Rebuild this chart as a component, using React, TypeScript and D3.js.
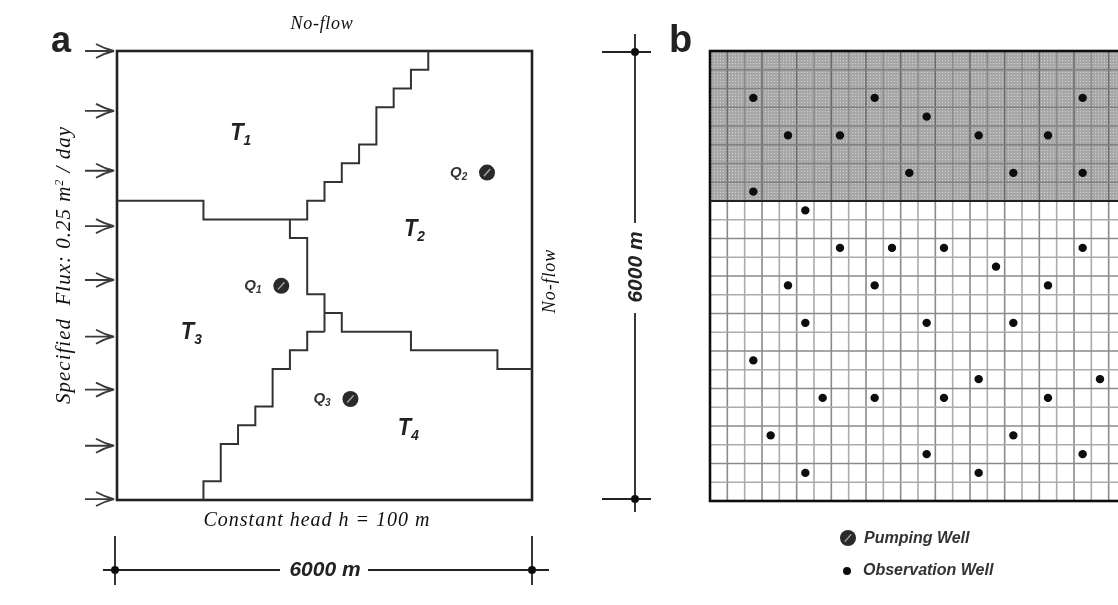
import React from "react";
import * as d3 from "d3";

// model grid is 24 x 24 cells, everything below is in cell units
const cells = d3.range(0, 25);

// boundaries between zones, [col, row] vertices
const boundaryT1T2: [number, number][] = [[18, 0], [18, 1], [17, 1], [17, 2], [16, 2], [16, 3], [15, 3], [15, 5], [14, 5], [14, 6], [13, 6], [13, 7], [12, 7], [12, 8], [11, 8], [11, 9], [5, 9], [5, 8], [0, 8]];
const boundaryT2T3: [number, number][] = [[10, 9], [10, 10], [11, 10], [11, 13], [12, 13], [12, 15]];
const boundaryT2T4: [number, number][] = [[12, 14], [13, 14], [13, 15], [17, 15], [17, 16], [22, 16], [22, 17], [24, 17]];
const boundaryT3T4: [number, number][] = [[12, 15], [11, 15], [11, 16], [10, 16], [10, 17], [9, 17], [9, 19], [8, 19], [8, 20], [7, 20], [7, 21], [6, 21], [6, 23], [5, 23], [5, 24]];

const arrowRows = [0, 3.2, 6.4, 9.36, 12.24, 15.27, 18.1, 21.1, 23.95];

const zoneNames = ["1", "2", "3", "4"];
const zoneCols = [7.15, 17.2, 4.3, 16.85];
const zoneRows = [4.75, 9.9, 15.4, 20.55];

const pumpNames = ["1", "2", "3"];
const pumpCols = [9.5, 21.4, 13.5];
const pumpRows = [12.55, 6.5, 18.6];

// observation wells, cell index
const obsCols = [2, 9, 21, 12, 4, 7, 15, 19, 11, 17, 21, 2, 5, 7, 10, 13, 21, 16, 4, 9, 19, 5, 12, 17, 2, 15, 22, 6, 9, 13, 19, 3, 17, 12, 21, 5, 15];
const obsRows = [2, 2, 2, 3, 4, 4, 4, 4, 6, 6, 6, 7, 8, 10, 10, 10, 10, 11, 12, 12, 12, 14, 14, 14, 16, 17, 17, 18, 18, 18, 18, 20, 20, 21, 21, 22, 22];
const shadedRows = 8;

const sans = "'Liberation Sans', Arial, sans-serif";
const serif = "'Liberation Serif', 'Times New Roman', serif";

const ax = d3.scaleLinear().domain([0, 24]).range([117, 532]);
const ay = d3.scaleLinear().domain([0, 24]).range([51, 500]);
const bx = d3.scaleLinear().domain([0, 24]).range([710, 1126]);
const by = d3.scaleLinear().domain([0, 24]).range([51, 501]);

const boundaryLine = d3.line<[number, number]>().x(d => ax(d[0])).y(d => ay(d[1]));

function PumpSymbol({ x, y, r }: { x: number; y: number; r: number }) {
  return (
    <g>
      <circle cx={x} cy={y} r={r} fill="#2a2a2a" />
      <line x1={x - r * 0.4} y1={y + r * 0.45} x2={x + r * 0.4} y2={y - r * 0.45} stroke="#aaa" strokeWidth={1.4} />
    </g>
  );
}

function Arrow({ y }: { y: number }) {
  return (
    <path d={`M85,${y}H114M96,${y - 7}Q105,${y - 2} 114,${y}Q105,${y + 2} 96,${y + 7}`} fill="none" stroke="#3a3a3a" strokeWidth={1.8} />
  );
}

export default function App() {
  return (
    <svg width={1118} height={605} style={{ position: "absolute", left: 0, top: 0, display: "block", background: "#fff" }}>
      <defs>
        <filter id="soft" x="0" y="0" width="100%" height="100%">
          <feGaussianBlur stdDeviation="0.6" />
        </filter>
        <pattern id="dots" width="3" height="3" patternUnits="userSpaceOnUse">
          <rect width="3" height="3" fill="#a8a8a8" />
          <rect width="1" height="1" fill="#d0d0d0" />
        </pattern>
      </defs>
      <g filter="url(#soft)">
        <rect width={1118} height={605} fill="#fff" />

        {/* panel a */}
        <text x={51} y={52} fontFamily={sans} fontWeight="bold" fontSize={36} fill="#222">a</text>
        <rect x={ax(0)} y={ay(0)} width={ax(24) - ax(0)} height={ay(24) - ay(0)} fill="none" stroke="#222" strokeWidth={2.6} />
        {[boundaryT1T2, boundaryT2T3, boundaryT2T4, boundaryT3T4].map((b, i) => (
          <path key={i} d={boundaryLine(b) ?? ""} fill="none" stroke="#333" strokeWidth={2} />
        ))}
        {arrowRows.map(r => <Arrow key={r} y={ay(r)} />)}

        {zoneNames.map((n, i) => (
          <text key={n} x={ax(zoneCols[i])} y={ay(zoneRows[i])} fontFamily={sans} fontWeight="bold" fontStyle="italic" fontSize={24} fill="#222" textAnchor="middle" textLength={21} lengthAdjust="spacingAndGlyphs">
            T<tspan fontSize={15} dy={5}>{n}</tspan>
          </text>
        ))}
        {pumpNames.map((n, i) => (
          <g key={n}>
            <text x={ax(pumpCols[i]) - 37} y={ay(pumpRows[i]) + 4} fontFamily={sans} fontWeight="bold" fontStyle="italic" fontSize={15} fill="#333">
              Q<tspan fontSize={10} dy={3}>{n}</tspan>
            </text>
            <PumpSymbol x={ax(pumpCols[i])} y={ay(pumpRows[i])} r={8} />
          </g>
        ))}

        <text x={322} y={29} fontFamily={serif} fontStyle="italic" fontSize={18} letterSpacing={0.7} fill="#111" textAnchor="middle">No-flow</text>
        <text transform="translate(555,281) rotate(-90)" fontFamily={serif} fontStyle="italic" fontSize={18} letterSpacing={0.9} fill="#111" textAnchor="middle">No-flow</text>
        <text transform="translate(70,265) rotate(-90)" fontFamily={serif} fontStyle="italic" fontSize={21} letterSpacing={1} fill="#111" textAnchor="middle" xmlSpace="preserve">
          Specified  Flux: 0.25 m<tspan fontSize={12} dy={-7}>2</tspan><tspan dy={7}> / day</tspan>
        </text>
        <text x={317} y={526} fontFamily={serif} fontStyle="italic" fontSize={20} letterSpacing={1} fill="#111" textAnchor="middle">Constant head h = 100 m</text>

        {/* width dimension */}
        <path d="M115,570H280M368,570H532M103,570H115M532,570H549M115,536V585M532,536V585" fill="none" stroke="#222" strokeWidth={1.8} />
        <circle cx={115} cy={570} r={4} fill="#111" />
        <circle cx={532} cy={570} r={4} fill="#111" />
        <text x={325} y={576} fontFamily={sans} fontWeight="bold" fontStyle="italic" fontSize={21} fill="#222" textAnchor="middle">6000 m</text>

        {/* height dimension */}
        <path d="M635,34V223M635,313V512M602,52H651M602,499H651" fill="none" stroke="#222" strokeWidth={1.8} />
        <circle cx={635} cy={52} r={4} fill="#111" />
        <circle cx={635} cy={499} r={4} fill="#111" />
        <text transform="translate(642,267) rotate(-90)" fontFamily={sans} fontWeight="bold" fontStyle="italic" fontSize={21} fill="#222" textAnchor="middle">6000 m</text>

        {/* panel b */}
        <text x={669} y={52} fontFamily={sans} fontWeight="bold" fontSize={38} fill="#222">b</text>
        <rect x={bx(0)} y={by(0)} width={bx(24) - bx(0)} height={by(shadedRows) - by(0)} fill="url(#dots)" />
        {cells.map(k => (
          <line key={"v" + k} x1={bx(k)} x2={bx(k)} y1={by(shadedRows)} y2={by(24)} stroke={k % 2 ? "#8a8a8a" : "#ababab"} strokeWidth={1.6} />
        ))}
        {cells.map(k => (
          <line key={"vs" + k} x1={bx(k)} x2={bx(k)} y1={by(0)} y2={by(shadedRows)} stroke={k % 2 ? "#6a6a6a" : "#8a8a8a"} strokeWidth={1.5} />
        ))}
        {cells.map(k => (
          <line key={"h" + k} x1={bx(0)} x2={bx(24)} y1={by(k)} y2={by(k)} stroke={k < shadedRows ? "#808080" : k % 2 ? "#ababab" : "#8a8a8a"} strokeWidth={1.6} />
        ))}
        <rect x={bx(0)} y={by(0)} width={bx(24) - bx(0)} height={by(24) - by(0)} fill="none" stroke="#111" strokeWidth={2.6} />
        <line x1={bx(0)} x2={bx(24)} y1={by(shadedRows)} y2={by(shadedRows)} stroke="#222" strokeWidth={2.2} />
        {obsCols.map((c, i) => (
          <circle key={i} cx={bx(c + 0.5)} cy={by(obsRows[i] + 0.5)} r={4.2} fill="#0a0a0a" />
        ))}

        {/* legend */}
        <PumpSymbol x={848} y={538} r={8} />
        <text x={864} y={543} fontFamily={sans} fontWeight="bold" fontStyle="italic" fontSize={16} fill="#333">Pumping Well</text>
        <circle cx={847} cy={571} r={4} fill="#111" />
        <text x={863} y={575} fontFamily={sans} fontWeight="bold" fontStyle="italic" fontSize={16} fill="#333">Observation Well</text>
      </g>
    </svg>
  );
}
